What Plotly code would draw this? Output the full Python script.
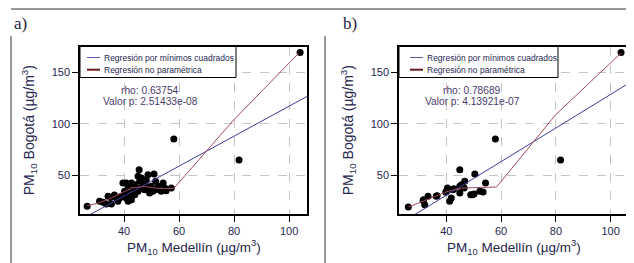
import plotly.graph_objects as go

# ---------------- data ----------------
a_x = [26.6, 31.1, 32.4, 34.2, 33.5, 35.4, 37.2, 39.0, 39.6, 40.8, 41.5, 40.2, 42.0, 42.7, 41.5,
       43.3, 43.9, 45.5, 45.1, 46.3, 45.7, 46.9, 48.1, 48.7, 50.9, 46.3, 47.5, 49.3, 50.5, 49.9,
       52.4, 54.2, 54.8, 53.5, 55.3, 43.9, 45.1, 42.7, 44.5, 38.4, 40.8, 37.8, 48.1, 57.2, 51.5,
       36.5, 35.0, 44.0, 47.0, 41.0, 52.0, 49.0, 58.1, 81.8, 104.0]
a_y = [19.5, 24.4, 23.4, 29.3, 21.8, 21.8, 27.6, 29.3, 42.2, 42.2, 39.0, 34.1, 30.8, 26.0, 24.4,
       34.7, 40.6, 55.2, 48.7, 47.0, 43.9, 42.2, 45.4, 50.3, 51.0, 37.3, 35.7, 32.5, 34.1, 39.0,
       39.0, 42.2, 37.3, 34.1, 34.7, 30.8, 34.1, 42.2, 37.3, 27.6, 27.6, 24.4, 39.0, 37.3, 43.9,
       30.5, 28.0, 36.0, 40.0, 33.0, 36.0, 36.0, 85.0, 64.6, 169.5]

b_x = [26.1, 31.5, 32.1, 33.3, 31.7, 36.3, 36.6, 40.0, 40.4, 39.8, 41.8, 41.2, 42.4, 42.7, 44.9,
       44.9, 45.5, 44.9, 46.7, 46.5, 50.4, 48.9, 50.1, 49.5, 52.2, 53.4, 54.3, 57.9, 81.7, 103.8]
b_y = [18.8, 25.1, 21.1, 29.3, 26.0, 29.3, 29.8, 34.1, 37.3, 33.2, 27.6, 24.4, 35.7, 36.7, 55.2,
       39.0, 40.6, 32.5, 43.9, 37.3, 51.0, 30.8, 31.5, 30.8, 34.1, 33.4, 42.2, 85.0, 64.6, 169.5]

# least squares lines
a_ols_x = [24.0, 106.5]
a_ols_y = [6.1, 126.6]
b_ols_x = [22.7, 106.7]
b_ols_y = [2.0, 139.6]

# non-parametric regression curves
a_np_x = [26.6, 30.5, 34.5, 39.0, 42.7, 47.5, 51.1, 55.0, 58.1, 79.9, 103.5]
a_np_y = [19.8, 22.7, 26.5, 32.5, 37.3, 39.0, 37.3, 36.8, 37.0, 103.8, 168.8]
b_np_x = [26.1, 34.5, 40.6, 45.5, 58.3, 79.9, 103.8]
b_np_y = [18.8, 27.6, 34.1, 37.3, 38.3, 108.7, 169.0]

x_ticks = [40, 60, 80, 100]
y_ticks = [50, 100, 150]
panel_labels = ["a)", "b)"]
rho_texts = ["rho: 0.63754", "rho: 0.78689"]
p_texts = ["Valor p: 2.51433e-08", "Valor p: 4.13921e-07"]
legend_names = ["Regresión por mínimos cuadrados", "Regresión no paramétrica"]
x_title = "PM<sub>10</sub> Medellín (µg/m<sup>3</sup>)"
y_title = "PM<sub>10</sub> Bogotá (µg/m<sup>3</sup>)"

# ---------------- style ----------------
W, H = 634, 263
SANS = "Liberation Sans, Arial, sans-serif"
TXT = "#262650"
BLUE = "#3c3c9c"
RED = "#a04a5c"
LEG_RED = "#6a1c1c"

fig = go.Figure()

panels = [
    dict(x=a_x, y=a_y, ox=a_ols_x, oy=a_ols_y, nx=a_np_x, ny=a_np_y,
         xdom=[72 / W, 299 / W], xr=[24.0, 106.5], xa="x", ya="y"),
    dict(x=b_x, y=b_y, ox=b_ols_x, oy=b_ols_y, nx=b_np_x, ny=b_np_y,
         xdom=[391 / W, 621 / W], xr=[22.7, 106.7], xa="x2", ya="y2"),
]
ydom = [1 - 206 / H, 1 - 38.5 / H]
yr = [12.0, 175.3]

annotations = []
shapes = []

for i, p in enumerate(panels):
    fig.add_trace(go.Scatter(x=p["x"], y=p["y"], mode="markers", xaxis=p["xa"], yaxis=p["ya"],
                             marker=dict(color="black", size=7), showlegend=False,
                             hoverinfo="skip"))
    fig.add_trace(go.Scatter(x=p["ox"], y=p["oy"], mode="lines", xaxis=p["xa"], yaxis=p["ya"],
                             line=dict(color=BLUE, width=1), showlegend=False))
    fig.add_trace(go.Scatter(x=p["nx"], y=p["ny"], mode="lines", xaxis=p["xa"], yaxis=p["ya"],
                             line=dict(color=RED, width=1), showlegend=False))

    sfx = "" if i == 0 else "2"
    axis_common = dict(showgrid=True, gridcolor="#c4c4c4", griddash="dash", gridwidth=1,
                       zeroline=False, showline=True, linecolor="black", linewidth=1.5,
                       mirror=True, ticks="outside", ticklen=6, tickcolor="black",
                       tickwidth=1.2,
                       tickfont=dict(family=SANS, size=11, color=TXT))
    fig.update_layout(**{
        "xaxis" + sfx: dict(domain=p["xdom"], range=p["xr"], tickvals=x_ticks,
                            anchor="y" + sfx, **axis_common),
        "yaxis" + sfx: dict(domain=ydom, range=yr, tickvals=y_ticks,
                            anchor="x" + sfx, **axis_common),
    })

    xref_d = p["xa"] + " domain"
    yref_d = p["ya"] + " domain"
    pw = (p["xdom"][1] - p["xdom"][0]) * W
    ph = (ydom[1] - ydom[0]) * H

    def dx(px):
        return px / pw

    def dy(py):
        return 1 - py / ph

    # legend box
    box_w = 156 if i == 0 else 159
    shapes.append(dict(type="rect", xref=xref_d, yref=yref_d, x0=0, x1=dx(box_w),
                       y0=dy(31), y1=1, line=dict(color="black", width=1),
                       fillcolor="white", layer="above"))
    lx0 = 7 if i == 0 else 11
    shapes.append(dict(type="line", xref=xref_d, yref=yref_d, x0=dx(lx0), x1=dx(lx0 + 13),
                       y0=dy(11), y1=dy(11), line=dict(color="#5a5aaa", width=1),
                       layer="above"))
    shapes.append(dict(type="line", xref=xref_d, yref=yref_d, x0=dx(lx0), x1=dx(lx0 + 13),
                       y0=dy(23.2), y1=dy(23.2), line=dict(color=LEG_RED, width=2),
                       layer="above"))
    for k, name in enumerate(legend_names):
        annotations.append(dict(xref=xref_d, yref=yref_d, x=dx(lx0 + 15), y=dy(11 + 12.2 * k),
                                text=name, showarrow=False, xanchor="left", yanchor="middle",
                                font=dict(family=SANS, size=8.5, color=TXT)))
    # rho / p annotation
    annotations.append(dict(xref=p["xa"], yref=p["ya"], x=49.5, y=132, text=rho_texts[i],
                            showarrow=False, xanchor="center", yanchor="middle",
                            font=dict(family=SANS, size=10.2, color="#4a3a6a")))
    annotations.append(dict(xref=p["xa"], yref=p["ya"], x=49.5, y=121.8, text=p_texts[i],
                            showarrow=False, xanchor="center", yanchor="middle",
                            font=dict(family=SANS, size=10.2, color="#4a3a6a")))
    # axis titles
    annotations.append(dict(xref=xref_d, yref="paper", x=0.5, y=1 - 239 / H, text=x_title,
                            showarrow=False, xanchor="center", yanchor="middle",
                            font=dict(family=SANS, size=13.5, color=TXT)))
    annotations.append(dict(xref="paper", yref=yref_d, x=(21 if i == 0 else 340) / W, y=0.5,
                            text=y_title, textangle=-90, showarrow=False,
                            xanchor="center", yanchor="middle",
                            font=dict(family=SANS, size=14, color=TXT)))

# panel labels
annotations.append(dict(xref="paper", yref="paper", x=12 / W, y=1 - 16 / H, text=panel_labels[0],
                        showarrow=False, xanchor="center", yanchor="middle",
                        font=dict(family="Liberation Serif, Times New Roman, serif", size=17,
                                  color="#1e1e3c")))
annotations.append(dict(xref="paper", yref="paper", x=342 / W, y=1 - 16 / H, text=panel_labels[1],
                        showarrow=False, xanchor="center", yanchor="middle",
                        font=dict(family="Liberation Serif, Times New Roman, serif", size=17,
                                  color="#1e1e3c")))

# outer frame
frame_col = "#333333"
shapes.append(dict(type="line", xref="paper", yref="paper", x0=3 / W, x1=632 / W,
                   y0=1 - 1 / H, y1=1 - 1 / H, line=dict(color=frame_col, width=1)))
for xv in [3, 317, 632]:
    shapes.append(dict(type="line", xref="paper", yref="paper", x0=xv / W, x1=xv / W,
                       y0=0, y1=1 - 28 / H, line=dict(color=frame_col, width=1)))

fig.update_layout(width=W, height=H, margin=dict(l=0, r=0, t=0, b=0),
                  paper_bgcolor="white", plot_bgcolor="white", showlegend=False,
                  annotations=annotations, shapes=shapes)

fig.write_html("out.html")
